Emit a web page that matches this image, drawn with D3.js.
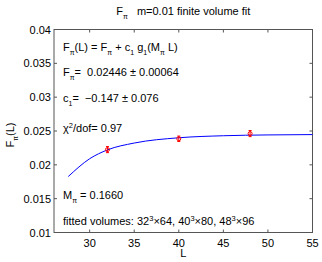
<!DOCTYPE html>
<html>
<head>
<meta charset="utf-8">
<script src="https://cdn.jsdelivr.net/npm/d3@7"></script>
<style>
  body { margin: 0; background: #fff; }
  svg { display: block; }
  text { font-family: "Liberation Sans", Arial, sans-serif; fill: #000; }
</style>
</head>
<body>
<div id="chart"></div>
<script>
// fitted curve
const curveL = [27.6, 30, 32, 35, 40, 45, 50, 55];
const curveF = [0.01827, 0.0209, 0.02221, 0.02322, 0.02400, 0.02430, 0.02442, 0.02447];

// lattice points with error bars
const pointL = [32, 40, 48];
const pointF = [0.02225, 0.02385, 0.02462];
const pointErr = [0.00045, 0.0004, 0.00045];

const xTicks = [30, 35, 40, 45, 50, 55];
const yTicks = [0.01, 0.015, 0.02, 0.025, 0.03, 0.035, 0.04];

const width = 322, height = 262;
const margin = {left: 54, right: 9.5, top: 29.5, bottom: 29.5};

const svg = d3.select("#chart").append("svg")
    .attr("width", width)
    .attr("height", height);

const x = d3.scaleLinear().domain([26, 55]).range([margin.left, width - margin.right]);
const y = d3.scaleLinear().domain([0.01, 0.04]).range([height - margin.bottom, margin.top]);

const axisColor = "#555";

// box
svg.append("rect")
    .attr("x", x(26)).attr("y", y(0.04))
    .attr("width", x(55) - x(26)).attr("height", y(0.01) - y(0.04))
    .attr("fill", "none").attr("stroke", axisColor).attr("stroke-width", 1);

// ticks inside on all four sides
let tickLen = 3;
xTicks.forEach(function (t) {
    svg.append("line").attr("x1", x(t)).attr("x2", x(t))
        .attr("y1", y(0.01)).attr("y2", y(0.01) - tickLen)
        .attr("stroke", axisColor);
    svg.append("line").attr("x1", x(t)).attr("x2", x(t))
        .attr("y1", y(0.04)).attr("y2", y(0.04) + tickLen)
        .attr("stroke", axisColor);
    svg.append("text")
        .attr("x", x(t)).attr("y", y(0.01) + 14)
        .attr("text-anchor", "middle")
        .attr("font-size", 11)
        .text(t);
});
yTicks.forEach(function (t) {
    svg.append("line").attr("x1", x(26)).attr("x2", x(26) + tickLen)
        .attr("y1", y(t)).attr("y2", y(t))
        .attr("stroke", axisColor);
    svg.append("line").attr("x1", x(55)).attr("x2", x(55) - tickLen)
        .attr("y1", y(t)).attr("y2", y(t))
        .attr("stroke", axisColor);
    svg.append("text")
        .attr("x", x(26) - 3).attr("y", y(t) + 4)
        .attr("text-anchor", "end")
        .attr("font-size", 11)
        .text(d3.format("")(t));
});

// fitted curve
const line = d3.line()
    .x(function (d, i) { return x(curveL[i]); })
    .y(function (d) { return y(d); })
    .curve(d3.curveMonotoneX);

svg.append("path")
    .datum(curveF)
    .attr("d", line)
    .attr("fill", "none")
    .attr("stroke", "#0000ff")
    .attr("stroke-width", 1);

// data points with error bars
pointL.forEach(function (L, i) {
    let cx = x(L), cy = y(pointF[i]);
    let top = y(pointF[i] + pointErr[i]), bot = y(pointF[i] - pointErr[i]);
    svg.append("line").attr("x1", cx).attr("x2", cx).attr("y1", top).attr("y2", bot)
        .attr("stroke", "#ff0000").attr("stroke-width", 1);
    svg.append("line").attr("x1", cx - 1.5).attr("x2", cx + 1.5).attr("y1", top).attr("y2", top)
        .attr("stroke", "#ff0000").attr("stroke-width", 1);
    svg.append("line").attr("x1", cx - 1.5).attr("x2", cx + 1.5).attr("y1", bot).attr("y2", bot)
        .attr("stroke", "#ff0000").attr("stroke-width", 1);
    svg.append("circle").attr("cx", cx).attr("cy", cy).attr("r", 2)
        .attr("fill", "none").attr("stroke", "#ff0000").attr("stroke-width", 1);
});

// helper for text with sub/superscripts: parts = [[text, 'n'|'sub'|'sup'], ...]
function richText(px, py, parts, anchor) {
    let t = svg.append("text")
        .attr("x", px).attr("y", py)
        .attr("font-size", 11)
        .attr("text-anchor", anchor || "start");
    let shift = 0;
    parts.forEach(function (p) {
        let dy = 0, size = 11;
        if (p[1] === "sub") { dy = 4 - shift; size = 7; shift = 4; }
        else if (p[1] === "sup") { dy = -4 - shift; size = 7.5; shift = -4; }
        else { dy = -shift; shift = 0; }
        t.append("tspan").attr("dy", dy).attr("font-size", size)
            .attr("xml:space", "preserve").text(p[0]);
    });
    return t;
}

// title
richText(x(40.5), 15, [["F", "n"], ["π", "sub"], ["   m=0.01 finite volume fit", "n"]], "middle");

// annotations
const ax = 63;
richText(ax, 51, [["F", "n"], ["π", "sub"], ["(L) = F", "n"], ["π", "sub"], [" + c", "n"], ["1", "sub"],
    [" g", "n"], ["1", "sub"], ["(M", "n"], ["π", "sub"], [" L)", "n"]]);
richText(ax, 76, [["F", "n"], ["π", "sub"], ["=  0.02446 ± 0.00064", "n"]]);
richText(ax, 102, [["c", "n"], ["1", "sub"], ["=  −0.147 ± 0.076", "n"]]);
richText(ax, 132, [["χ", "n"], ["2", "sup"], ["/dof= 0.97", "n"]]);
richText(ax, 199, [["M", "n"], ["π", "sub"], [" = 0.1660", "n"]]);
richText(ax, 225, [["fitted volumes: 32", "n"], ["3", "sup"], ["×64, 40", "n"], ["3", "sup"],
    ["×80, 48", "n"], ["3", "sup"], ["×96", "n"]]);

// axis labels
svg.append("text")
    .attr("x", x(40.5)).attr("y", 257)
    .attr("text-anchor", "middle")
    .attr("font-size", 11)
    .text("L");

let yl = svg.append("g").attr("transform", "translate(14," + 135 + ") rotate(-90)");
let ylt = yl.append("text").attr("text-anchor", "middle").attr("font-size", 11);
ylt.append("tspan").text("F");
ylt.append("tspan").attr("dy", 4).attr("font-size", 7).text("π");
ylt.append("tspan").attr("dy", -4).text("(L)");
</script>
</body>
</html>
